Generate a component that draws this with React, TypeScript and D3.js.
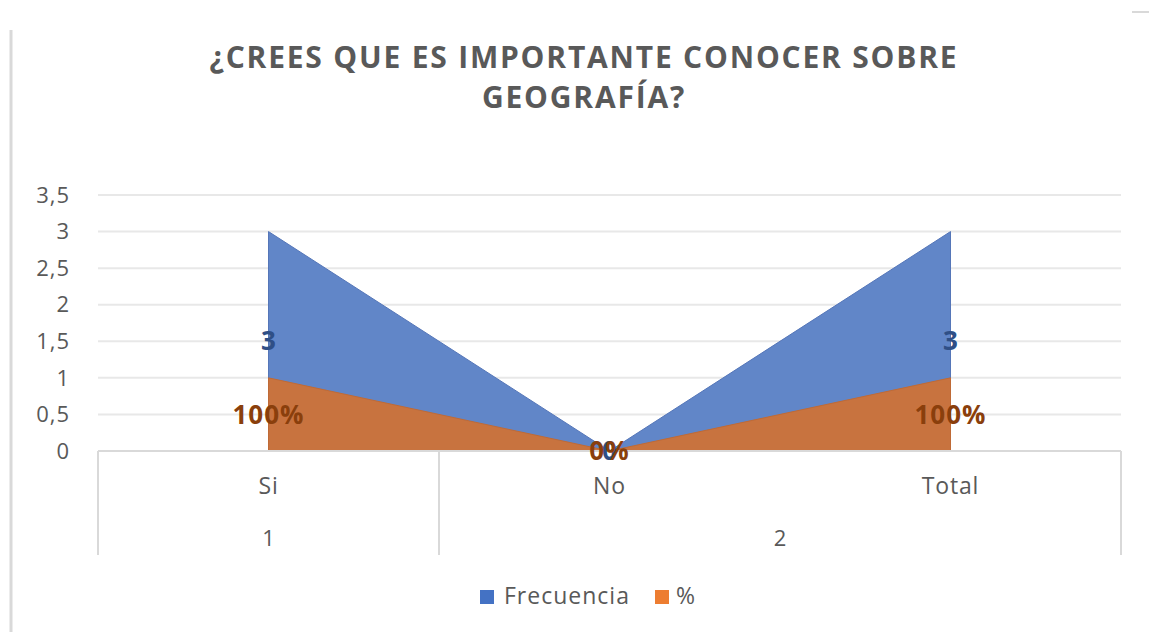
import React from 'react';
import * as d3 from 'd3';

// chart values
const categories = ['Si', 'No', 'Total'];
const groups = [
  { label: '1', items: ['Si'] },
  { label: '2', items: ['No', 'Total'] },
];
const frecuencia = [3, 0, 3];
const porcentaje = [1, 0, 1];
const pctLabels = ['100%', '0%', '100%'];
const yTicks = [0, 0.5, 1, 1.5, 2, 2.5, 3, 3.5];
const titleLines = ['¿CREES QUE ES IMPORTANTE CONOCER SOBRE', 'GEOGRAFÍA?'];

const W = 1149;
const H = 632;
const LEFT = 98;
const RIGHT = 1121;
const TOP = 195;
const BOTTOM = 451;

const BLUE = '#6186c8';
const ORANGE = '#c8733f';
const FONT = 'Open Sans, sans-serif';

const x = d3.scalePoint<string>().domain(categories).range([LEFT, RIGHT]).padding(0.5);
const y = d3.scaleLinear().domain([0, 3.5]).range([BOTTOM, TOP]);
const step = x.step();

const areaGen = d3
  .area<number>()
  .x((_, i) => x(categories[i]) as number)
  .y0(y(0))
  .y1((d) => y(d));

export default function App() {
  // group boundaries for the two-level axis
  let acc = LEFT;
  const groupBounds = groups.map((g) => {
    const start = acc;
    acc += g.items.length * step;
    return { ...g, start, end: acc };
  });
  const dividers = [LEFT, ...groupBounds.map((g) => g.end)];

  return (
    <svg width={W} height={H} style={{ display: 'block', position: 'absolute', left: 0, top: 0 }}>
      <rect width={W} height={H} fill="#fff" />
      {/* frame pieces */}
      <line x1={11} x2={11} y1={30} y2={H} stroke="#d9d9d9" strokeWidth={3} />
      <line x1={1132} x2={1149} y1={12} y2={12} stroke="#d9d9d9" strokeWidth={2} />

      {titleLines.map((t, i) => (
        <text
          key={t}
          x={584}
          y={68 + i * 40}
          textAnchor="middle"
          fontFamily={FONT}
          fontWeight={700}
          fontSize={30}
          letterSpacing={1.8}
          fill="#595959"
        >
          {t}
        </text>
      ))}

      {/* gridlines */}
      {yTicks.map((t) => (
        <line key={t} x1={LEFT} x2={RIGHT} y1={y(t)} y2={y(t)} stroke="#e8e8e8" strokeWidth={2} />
      ))}
      {yTicks.map((t) => (
        <text
          key={'l' + t}
          x={70}
          y={y(t)}
          dy="0.35em"
          textAnchor="end"
          fontFamily={FONT}
          fontSize={22}
          letterSpacing={1}
          fill="#595959"
        >
          {String(t).replace('.', ',')}
        </text>
      ))}

      {/* areas */}
      <path d={areaGen(frecuencia) || ''} fill={BLUE} stroke="#5576b8" strokeWidth={1} />
      <path d={areaGen(porcentaje) || ''} fill={ORANGE} stroke="#bf6a36" strokeWidth={1} />

      {/* category axis */}
      <line x1={LEFT} x2={RIGHT} y1={BOTTOM} y2={BOTTOM} stroke="#d9d9d9" strokeWidth={2} />
      {dividers.map((d) => (
        <line key={d} x1={d} x2={d} y1={BOTTOM} y2={555} stroke="#d9d9d9" strokeWidth={2} />
      ))}
      {categories.map((c) => (
        <text
          key={c}
          x={x(c)}
          y={494}
          textAnchor="middle"
          fontFamily={FONT}
          fontSize={23}
          letterSpacing={0.8}
          fill="#595959"
        >
          {c}
        </text>
      ))}
      {groupBounds.map((g) => (
        <text
          key={g.label}
          x={(g.start + g.end) / 2}
          y={546}
          textAnchor="middle"
          fontFamily={FONT}
          fontSize={22}
          fill="#595959"
        >
          {g.label}
        </text>
      ))}

      {/* data labels */}
      {frecuencia.map((v, i) => (
        <text
          key={'f' + i}
          x={x(categories[i])}
          y={y(v / 2)}
          dy="0.35em"
          textAnchor="middle"
          fontFamily={FONT}
          fontWeight={700}
          fontSize={26}
          fill="#2f4f86"
        >
          {v}
        </text>
      ))}
      {porcentaje.map((v, i) => (
        <text
          key={'p' + i}
          x={x(categories[i])}
          y={y(v / 2)}
          dy="0.35em"
          textAnchor="middle"
          fontFamily={FONT}
          fontWeight={700}
          fontSize={26}
          letterSpacing={1}
          fill="#8a3f0c"
        >
          {pctLabels[i]}
        </text>
      ))}

      {/* legend */}
      <rect x={480} y={590} width={14} height={14} fill="#4472c4" />
      <text x={504} y={604} fontFamily={FONT} fontSize={23} letterSpacing={1} fill="#595959">
        Frecuencia
      </text>
      <rect x={655} y={590} width={14} height={14} fill="#ed7d31" />
      <text x={676} y={604} fontFamily={FONT} fontSize={23} fill="#595959">
        %
      </text>
    </svg>
  );
}
